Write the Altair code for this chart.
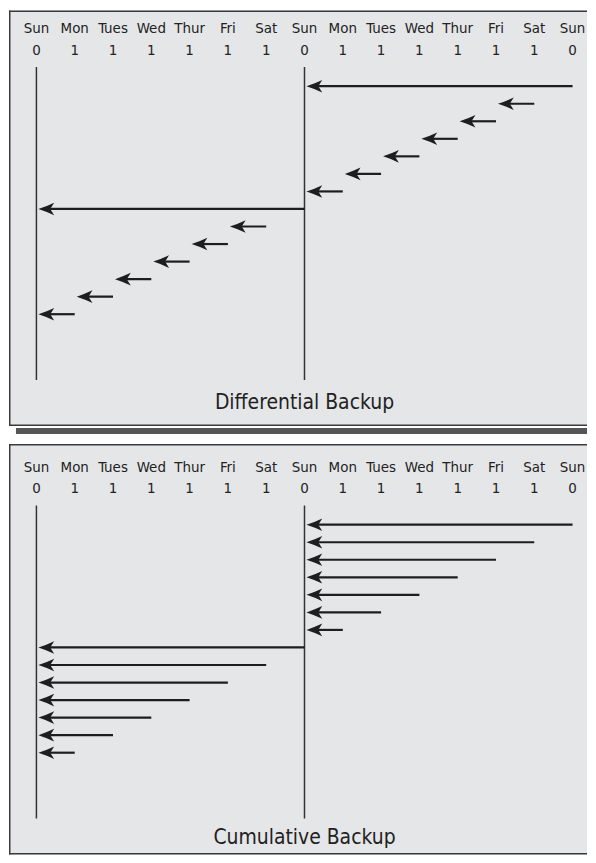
import altair as alt
import pandas as pd

# ---- data ----
days = ["Sun", "Mon", "Tues", "Wed", "Thur", "Fri", "Sat",
        "Sun", "Mon", "Tues", "Wed", "Thur", "Fri", "Sat", "Sun"]
levels = [0, 1, 1, 1, 1, 1, 1, 0, 1, 1, 1, 1, 1, 1, 0]
full_days = [0, 7]

panels = ["Differential Backup", "Cumulative Backup"]

diff_from = [14, 13, 12, 11, 10, 9, 8, 7, 6, 5, 4, 3, 2, 1]
diff_to = [7, 12, 11, 10, 9, 8, 7, 0, 5, 4, 3, 2, 1, 0]

cum_from = [14, 13, 12, 11, 10, 9, 8, 7, 6, 5, 4, 3, 2, 1]
cum_to = [7, 7, 7, 7, 7, 7, 7, 0, 0, 0, 0, 0, 0, 0]

FONT = "Liberation Sans Narrow, DejaVu Sans Condensed, Roboto, sans-serif"
GREY = "#e5e6e8"
INK = "#1e1e1e"
EDGE = "#3a3a3a"
ARROW = "M0,0 Q1,-0.32 2,-0.8 L1.5,0 L2,0.8 Q1,0.32 0,0 Z"

W, H = 580, 847
B1 = (0, 417)       # first box, top/bottom in px
B2 = (435, H)       # second box
STEP = 25           # row offset of second panel
ROW0 = 76.0         # pixel of first row
ROWH = 17.6         # pixel per row

# ---- tables built from the lists ----
lab_rows = []
for p in range(2):
    for i, (d, l) in enumerate(zip(days, levels)):
        lab_rows.append({"idx": i, "day": d, "lvl": str(l),
                         "yd": p * STEP - 3.3, "yl": p * STEP - 2.07})
lab = pd.DataFrame(lab_rows)

arr_rows = []
for p, (src, dst) in enumerate([(diff_from, diff_to), (cum_from, cum_to)]):
    for r, (a, b) in enumerate(zip(src, dst)):
        arr_rows.append({"row": p * STEP + r, "src": a, "dst": b})
arr = pd.DataFrame(arr_rows)

vl_rows = []
for p in range(2):
    for d in full_days:
        vl_rows.append({"idx": d, "y1": p * STEP - 1.1, "y2": p * STEP + 16.75})
vl = pd.DataFrame(vl_rows)

ttl = pd.DataFrame({"t": panels, "x": [7, 7], "y": [18.05, STEP + 17.85]})

xs = alt.Scale(domain=[-0.716, (W - 27.5) / 38.43], nice=False, zero=False)
ys = alt.Scale(domain=[-ROW0 / ROWH, (H - ROW0) / ROWH], nice=False, zero=False, reverse=True)

one = alt.Data(values=[{}])

frame = []
for (top, bot), shadow in [(B1, True), (B2, False)]:
    frame.append(alt.Chart(one).mark_rect(fill=GREY).encode(
        x=alt.value(0), x2=alt.value(W), y=alt.value(top), y2=alt.value(bot)))
    frame.append(alt.Chart(one).mark_rule(color=EDGE, strokeWidth=1.5).encode(
        x=alt.value(0.75), y=alt.value(top), y2=alt.value(bot)))
    frame.append(alt.Chart(one).mark_rule(color=EDGE, strokeWidth=1.5).encode(
        x=alt.value(0), x2=alt.value(W), y=alt.value(top + 0.75)))
    frame.append(alt.Chart(one).mark_rule(color=EDGE, strokeWidth=1.5).encode(
        x=alt.value(0), x2=alt.value(W), y=alt.value(bot - 0.75)))
    if shadow:
        frame.append(alt.Chart(one).mark_rect(fill="#555555").encode(
            x=alt.value(7), x2=alt.value(W), y=alt.value(bot + 2), y2=alt.value(bot + 8)))

vlines = alt.Chart(vl).mark_rule(color="#333333", strokeWidth=1.5).encode(
    x=alt.X("idx:Q", scale=xs, axis=None),
    y=alt.Y("y1:Q", scale=ys, axis=None),
    y2="y2:Q",
)

shafts = alt.Chart(arr).mark_rule(color=INK, strokeWidth=2.2, x2Offset=7).encode(
    x=alt.X("src:Q", scale=xs, axis=None),
    x2="dst:Q",
    y=alt.Y("row:Q", scale=ys, axis=None),
)

heads = alt.Chart(arr).mark_point(
    shape=ARROW, filled=True, size=250, color=INK, opacity=1, xOffset=2
).encode(
    x=alt.X("dst:Q", scale=xs, axis=None),
    y=alt.Y("row:Q", scale=ys, axis=None),
)

daytxt = alt.Chart(lab).mark_text(
    font=FONT, fontSize=15, color="#222222", baseline="middle"
).encode(
    x=alt.X("idx:Q", scale=xs, axis=None),
    y=alt.Y("yd:Q", scale=ys, axis=None),
    text="day:N",
)

lvltxt = alt.Chart(lab).mark_text(
    font=FONT, fontSize=15, color="#222222", baseline="middle"
).encode(
    x=alt.X("idx:Q", scale=xs, axis=None),
    y=alt.Y("yl:Q", scale=ys, axis=None),
    text="lvl:N",
)

titles = alt.Chart(ttl).mark_text(
    font=FONT, fontSize=21, color="#222222", baseline="middle"
).encode(
    x=alt.X("x:Q", scale=xs, axis=None),
    y=alt.Y("y:Q", scale=ys, axis=None),
    text="t:N",
)

chart = alt.layer(*frame, vlines, shafts, heads, daytxt, lvltxt, titles).properties(
    width=W, height=H, padding=0
).configure_view(stroke=None)

chart.save("out.html", embed_options={"renderer": "svg", "actions": False})
